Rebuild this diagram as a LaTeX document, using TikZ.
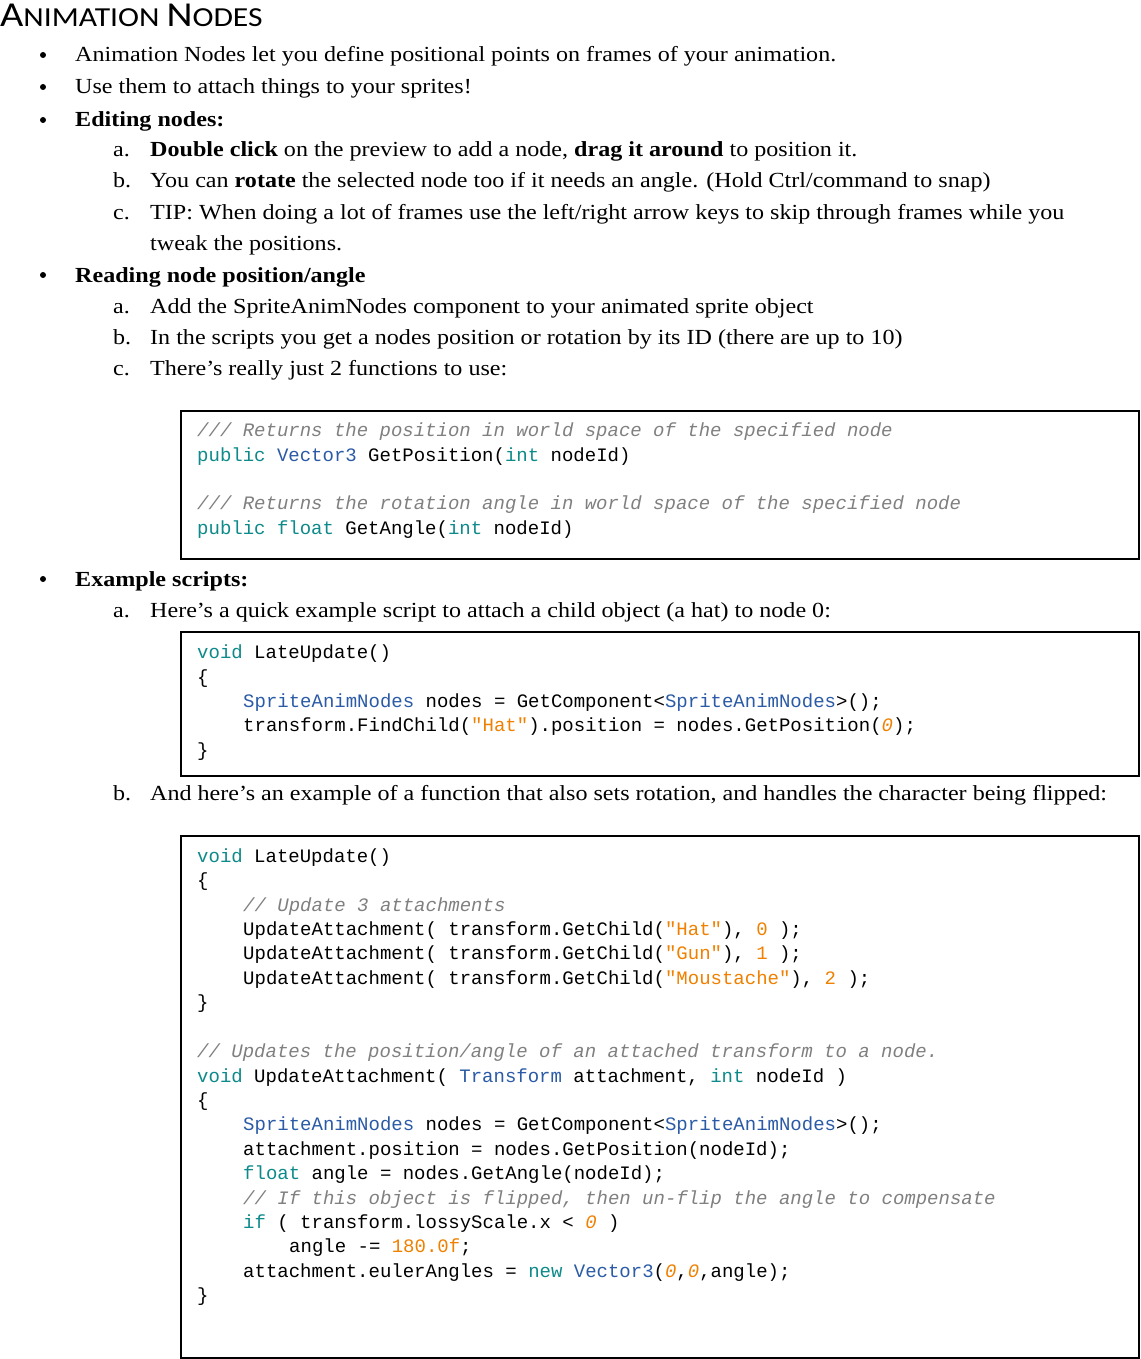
\documentclass[tikz,border=0pt]{standalone}
\usepackage{fontspec}
\setmainfont{Liberation Serif}[FakeStretch=1.12]
\newfontfamily\codef{Liberation Mono}
\newfontfamily\titlef{Carlito}[FakeStretch=1.15]
\definecolor{kwc}{HTML}{0E8A8A}
\definecolor{tyc}{HTML}{2B5BA6}
\definecolor{stc}{HTML}{F08000}
\definecolor{cmc}{HTML}{808080}
\newcommand{\kw}[1]{\textcolor{kwc}{#1}}
\newcommand{\ty}[1]{\textcolor{tyc}{#1}}
\newcommand{\st}[1]{\textcolor{stc}{#1}}
\newcommand{\cm}[1]{\textcolor{cmc}{\itshape #1}}
\tikzset{
 body/.style={anchor=base west,inner sep=0pt,font=\fontsize{21.5}{24}\selectfont},
 code/.style={anchor=base west,inner sep=0pt,font=\codef\fontsize{19}{22}\selectfont},
 bul/.style={circle,fill=black,inner sep=0pt,minimum size=6pt},
 cbox/.style={draw=black,line width=1.3pt}
}
\begin{document}
\begin{tikzpicture}[x=1pt,y=1pt]
\useasboundingbox[fill=white] (0,0) rectangle (1140,-1359);
\node[anchor=base west,inner sep=0pt] (title) at (0,-27) {\titlef\fontsize{35}{35}\selectfont A\fontsize{27.5}{27.5}\selectfont NIMATION \fontsize{35}{35}\selectfont N\fontsize{27.5}{27.5}\selectfont ODES};
% bullets
\foreach \n/\y in {b1/55,b2/87,b3/120,b4/275,b5/579}{\node[bul] (\n) at (43,-\y) {};}
\node[body] (t1) at (75,-62) {Animation Nodes let you define positional points on frames of your animation.};
\node[body] (t2) at (75,-94) {Use them to attach things to your sprites!};
\node[body] (t3) at (75,-127) {\textbf{Editing nodes:}};
\node[body] (l3a) at (113,-157) {a.};
\node[body] (t3a) at (150,-157) {\textbf{Double click} on the preview to add a node, \textbf{drag it around} to position it.};
\node[body] (l3b) at (113,-188) {b.};
\node[body] (t3b) at (150,-188) {You can \textbf{rotate} the selected node too if it needs an angle. (Hold Ctrl/command to snap)};
\node[body] (l3c) at (113,-219) {c.};
\node[body] (t3c) at (150,-219) {TIP: When doing a lot of frames use the left/right arrow keys to skip through frames while you};
\node[body] (t3c2) at (150,-250) {tweak the positions.};
\node[body] (t4) at (75,-282) {\textbf{Reading node position/angle}};
\node[body] (l4a) at (113,-313) {a.};
\node[body] (t4a) at (150,-313) {Add the SpriteAnimNodes component to your animated sprite object};
\node[body] (l4b) at (113,-344) {b.};
\node[body] (t4b) at (150,-344) {In the scripts you get a nodes position or rotation by its ID (there are up to 10)};
\node[body] (l4c) at (113,-375) {c.};
\node[body] (t4c) at (150,-375) {There’s really just 2 functions to use:};
% box 1
\draw[cbox] (181,-411) rectangle (1139,-559);
\node[code] (c11) at (197,-436) {\cm{/// Returns the position in world space of the specified node}};
\node[code] (c12) at (197,-461) {\kw{public} \ty{Vector3} GetPosition(\kw{int} nodeId)};
\node[code] (c13) at (197,-509) {\cm{/// Returns the rotation angle in world space of the specified node}};
\node[code] (c14) at (197,-534) {\kw{public} \kw{float} GetAngle(\kw{int} nodeId)};
\node[body] (t5) at (75,-586) {\textbf{Example scripts:}};
\node[body] (l5a) at (113,-617) {a.};
\node[body] (t5a) at (150,-617) {Here’s a quick example script to attach a child object (a hat) to node 0:};
% box 2
\draw[cbox] (181,-632) rectangle (1139,-776);
\node[code] (c21) at (197,-658) {\kw{void} LateUpdate()};
\node[code] (c22) at (197,-683) {\{};
\node[code] (c23) at (243,-707) {\ty{SpriteAnimNodes} nodes = GetComponent<\ty{SpriteAnimNodes}>();};
\node[code] (c24) at (243,-731) {transform.FindChild(\st{"Hat"}).position = nodes.GetPosition(\st{\itshape 0});};
\node[code] (c25) at (197,-756) {\}};
\node[body] (l5b) at (113,-800) {b.};
\node[body] (t5b) at (150,-800) {And here’s an example of a function that also sets rotation, and handles the character being flipped:};
% box 3
\draw[cbox] (181,-836) rectangle (1139,-1358);
\node[code] (d1) at (197,-862) {\kw{void} LateUpdate()};
\node[code] (d2) at (197,-886) {\{};
\node[code] (d3) at (243,-911) {\cm{// Update 3 attachments}};
\node[code] (d4) at (243,-935) {UpdateAttachment( transform.GetChild(\st{"Hat"}), \st{0} );};
\node[code] (d5) at (243,-959) {UpdateAttachment( transform.GetChild(\st{"Gun"}), \st{1} );};
\node[code] (d6) at (243,-984) {UpdateAttachment( transform.GetChild(\st{"Moustache"}), \st{2} );};
\node[code] (d7) at (197,-1008) {\}};
\node[code] (d8) at (197,-1057) {\cm{// Updates the position/angle of an attached transform to a node.}};
\node[code] (d9) at (197,-1082) {\kw{void} UpdateAttachment( \ty{Transform} attachment, \kw{int} nodeId )};
\node[code] (d10) at (197,-1106) {\{};
\node[code] (d11) at (243,-1130) {\ty{SpriteAnimNodes} nodes = GetComponent<\ty{SpriteAnimNodes}>();};
\node[code] (d12) at (243,-1155) {attachment.position = nodes.GetPosition(nodeId);};
\node[code] (d13) at (243,-1179) {\kw{float} angle = nodes.GetAngle(nodeId);};
\node[code] (d14) at (243,-1204) {\cm{// If this object is flipped, then un-flip the angle to compensate}};
\node[code] (d15) at (243,-1228) {\kw{if} ( transform.lossyScale.x < \st{\itshape 0} )};
\node[code] (d16) at (289,-1252) {angle -= \st{180.0f};};
\node[code] (d17) at (243,-1277) {attachment.eulerAngles = \kw{new} \ty{Vector3}(\st{\itshape 0},\st{\itshape 0},angle);};
\node[code] (d18) at (197,-1301) {\}};
\end{tikzpicture}
\end{document}
